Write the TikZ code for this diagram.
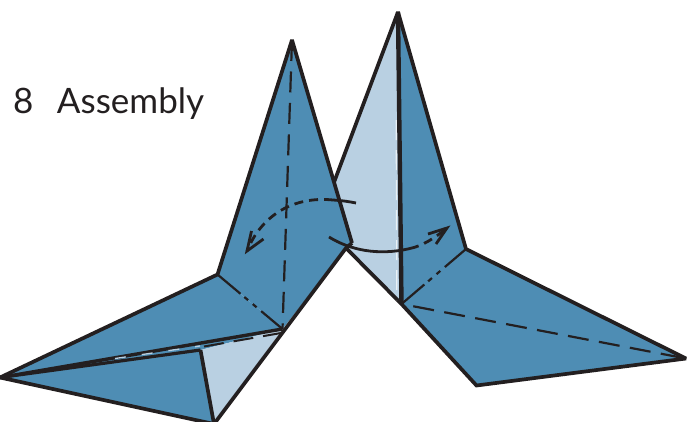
\documentclass[tikz,border=0pt]{standalone}
\usepackage{fontspec}
\setmainfont{Lato}
\definecolor{fold}{HTML}{4E8DB4}
\definecolor{paleside}{HTML}{B9D0E2}
\definecolor{ink}{HTML}{231F20}
\tikzset{
  edge/.style={draw=ink,line width=3.7pt,line join=miter,miter limit=3},
  dashfold/.style={draw=ink,line width=2.2pt,dash pattern=on 21pt off 10.5pt},
  chain/.style={draw=ink,line width=2.2pt,dash pattern=on 30pt off 5pt on 5pt off 6pt on 5pt off 6pt on 30pt off 5pt},
  motion/.style={draw=ink,line width=2.8pt},
  motiondash/.style={draw=ink,line width=2.8pt,dash pattern=on 9pt off 6pt},
  barb/.style={draw=ink,line width=2.8pt,line join=miter,miter limit=8},
}
\begin{document}
\begin{tikzpicture}[x=1pt,y=-1pt]
\useasboundingbox (0,0) rectangle (696,421);
\clip (0,0) rectangle (696,421);
% right piece
\coordinate (RA) at (398,12);
\coordinate (RL) at (333,185);
\coordinate (RN) at (346,248);
\coordinate (RB) at (401.5,304);
\coordinate (RS) at (466,249);
\coordinate (RT) at (686,358.5);
\coordinate (RF) at (476.5,385.5);
% left piece
\coordinate (LA) at (292,40);
\coordinate (LS) at (217.5,274.5);
\coordinate (LT) at (0,377.5);
\coordinate (LB) at (214,424);
\coordinate (LM) at (282.5,329);
\coordinate (LI) at (200.5,350);
\coordinate (LE) at (352,243);
\fill[paleside] (RA) -- (RL) -- (RN) -- (RB) -- cycle;
\fill[fold] (RA) -- (RS) -- (RT) -- (RF) -- (RB) -- cycle;
\draw[edge] (RL) -- (RA) -- (RS) -- (RT) -- (RF) -- (RB) -- (RN);
\draw[draw=ink,line width=4.4pt] (RA) -- (RB);
\draw[draw=white!70!paleside,line width=1.2pt,dash pattern=on 20pt off 10pt] (396.2,120) -- (396.8,300);
\draw[chain] (RB) -- (RS);
\draw[dashfold,dash phase=-12pt] (RB) -- (RT);
% left piece fill
\fill[fold] (LA) -- (LE) -- (RN) -- (LM) -- (LS) -- cycle;
\fill[fold] (LS) -- (LM) -- (LI) -- (LT) -- cycle;
\fill[paleside] (LI) -- (LM) -- (LB) -- cycle;
\fill[fold] (LT) -- (LI) -- (LB) -- cycle;
\draw[edge] (LE) -- (LA) -- (LS) -- (LT) -- (LB) -- (RN) -- (LE);
\draw[edge] (LI) -- (LB);
\draw[draw=ink,line width=3.4pt] (LT) -- (LM);
\draw[draw=ink,line width=3.2pt] (LT) -- (LI);
\draw[dashfold] (LA) -- (LM);
\draw[chain] (LS) -- (LM);
\draw[draw=paleside,line width=1.3pt,dash pattern=on 11pt off 16pt] (115,358.5) -- (200,346);
\draw[draw=ink,line width=2pt,dash pattern=on 20pt off 10pt] (204,346.5) -- (281,333);
% arrows
\coordinate (AS) at (356,203);
\coordinate (AM) at (333,200);
\coordinate (AE) at (247,251);
\draw[motion] (AS) .. controls (349,201.5) and (341,200.5) .. (AM);
\draw[motiondash] (AM) .. controls (295,196) and (262,214) .. (AE);
\draw[barb] (251.5,231) -- (AE) -- (263.5,239);
\coordinate (BS) at (329,237);
\coordinate (BM) at (410,248.5);
\coordinate (BE) at (447,228);
\draw[motion] (BS) .. controls (350,250) and (378,256) .. (BM);
\draw[motiondash] (BM) .. controls (422,246) and (435,238) .. (BE);
\draw[barb] (428,234) -- (BE) -- (436,244);
\node[anchor=base west,inner sep=0pt,text=ink,font=\fontsize{35}{40}\selectfont] (title) at (13,113) {8\hspace{23.5pt}Assembly};
\end{tikzpicture}
\end{document}
